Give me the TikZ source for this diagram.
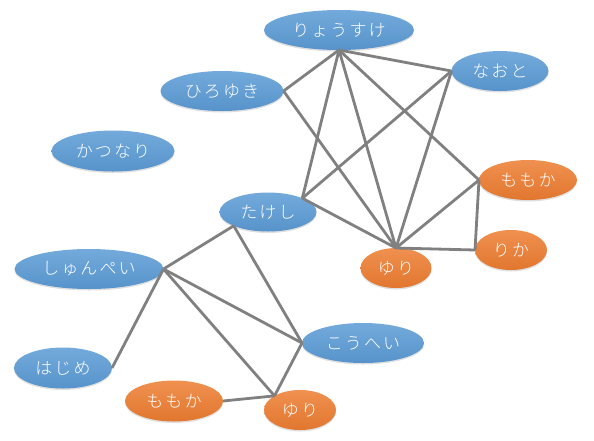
\documentclass[tikz,border=0pt]{standalone}
\usepackage{fontspec}
\newfontfamily\jpfont[LetterSpace=12]{Noto Sans CJK JP Light}
\usetikzlibrary{shapes.geometric}
\usetikzlibrary{shadows}

\definecolor{boyblue}{HTML}{5B9BD5}
\definecolor{girlorange}{HTML}{ED7D31}
\definecolor{linkgray}{HTML}{808080}

\begin{document}
\begin{tikzpicture}[x=1pt,y=-1pt,
    person/.style={ellipse, inner sep=0pt, outer sep=0pt, text=white,
        font=\jpfont\fontsize{17}{19}\selectfont,
        drop shadow={shadow xshift=0pt, shadow yshift=-1.5pt, opacity=0.25}},
    boy/.style={person, top color=boyblue!85!white, bottom color=boyblue!95!black},
    girl/.style={person, top color=girlorange!85!white, bottom color=girlorange!95!black},
    link/.style={draw=linkgray, line width=2.8pt}]
    \useasboundingbox (0,0) rectangle (594,440);

    % upper group
    \node[boy, minimum width=150, minimum height=40] (ryosuke) at (339,30) {りょうすけ};
    \node[boy, minimum width=123, minimum height=40] (hiroyuki) at (222,91) {ひろゆき};
    \node[boy, minimum width=97, minimum height=40] (naoto) at (500,71) {なおと};
    \node[boy, minimum width=123, minimum height=41] (katsunari) at (113,151) {かつなり};
    \node[girl, minimum width=98, minimum height=40] (momokaA) at (528,180) {ももか};
    \node[girl, minimum width=72, minimum height=40] (rika) at (511,250) {りか};
    \node[boy, minimum width=97, minimum height=39] (takeshi) at (268,212) {たけし};
    \node[girl, minimum width=71, minimum height=40] (yuriA) at (396,268) {ゆり};

    % lower group
    \node[boy, minimum width=149, minimum height=40] (shunpei) at (89,269) {しゅんぺい};
    \node[boy, minimum width=122, minimum height=40] (kohei) at (363,343) {こうへい};
    \node[boy, minimum width=98, minimum height=41] (hajime) at (63,368) {はじめ};
    \node[girl, minimum width=98, minimum height=41] (momokaB) at (174,401) {ももか};
    \node[girl, minimum width=72, minimum height=40] (yuriB) at (300,410) {ゆり};

    % links of the upper group
    \foreach \other in {hiroyuki.east, naoto.west, takeshi.north east, yuriA.north, momokaA.west} {
        \draw[link] (ryosuke.south) -- (\other);
    }
    \draw[link] (hiroyuki.east) -- (yuriA.north);
    \draw[link] (naoto.west) -- (takeshi.north east);
    \draw[link] (naoto.west) -- (yuriA.north);
    \draw[link] (takeshi.north east) -- (yuriA.north);
    \draw[link] (yuriA.north) -- (momokaA.west);
    \draw[link] (yuriA.north) -- (rika.west);
    \draw[link] (momokaA.west) -- (rika.west);

    % links of the lower group
    \draw[link] (takeshi.south west) -- (shunpei.east);
    \draw[link] (takeshi.south west) -- (kohei.west);
    \foreach \other in {kohei.west, yuriB.north west, hajime.east} {
        \draw[link] (shunpei.east) -- (\other);
    }
    \draw[link] (kohei.west) -- (yuriB.north west);
    \draw[link] (momokaB.east) -- (yuriB.north west);
\end{tikzpicture}
\end{document}
